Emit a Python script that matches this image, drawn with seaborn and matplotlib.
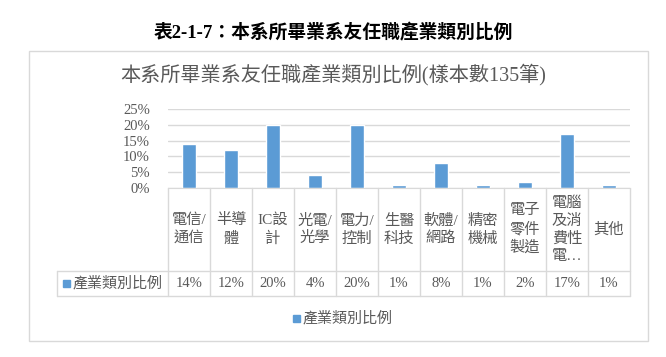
import matplotlib.pyplot as plt
import seaborn as sns
import pandas as pd
from matplotlib.patches import Rectangle
from matplotlib.transforms import blended_transform_factory

# data
categories = ['電信/通信', '半導體', 'IC設計', '光電/光學', '電力/控制', '生醫科技',
              '軟體/網路', '精密機械', '電子零件製造', '電腦及消費性電子', '其他']
cat_labels = ['電信/\n通信', '半導\n體', 'IC設\n計', '光電/\n光學', '電力/\n控制', '生醫\n科技',
              '軟體/\n網路', '精密\n機械', '電子\n零件\n製造', '電腦\n及消\n費性\n電…', '其他']
shares = [14, 12, 20, 4, 20, 1, 8, 1, 2, 17, 1]
series_name = '產業類別比例'
y_ticks = [0, 5, 10, 15, 20, 25]

outer_title = '表2-1-7：本系所畢業系友任職產業類別比例'
chart_title = '本系所畢業系友任職產業類別比例(樣本數135筆)'

BAR = '#5B9BD5'
GRID = '#D9D9D9'
TXT = '#595959'

sns.set_style('white')
plt.rcParams['font.family'] = ['Liberation Serif', 'Noto Sans CJK TC', 'DejaVu Sans']

W, H = 666, 357
fig = plt.figure(figsize=(W / 100, H / 100), dpi=100)


def fx(px):
    return px / W


def fy(py):
    return 1 - py / H


# outer title and chart frame
fig.text(0.5, fy(33), outer_title, ha='center', va='center', fontsize=13.5,
         fontweight='bold', color='black')
fig.add_artist(Rectangle((fx(29), fy(341)), fx(648) - fx(29), fy(51) - fy(341),
                         transform=fig.transFigure, fill=False, edgecolor=GRID, lw=1))
fig.text(0.5, fy(75), chart_title, ha='center', va='center', fontsize=14.5, color=TXT)

# plot area
ax = fig.add_axes([fx(168), fy(188), fx(630) - fx(168), fy(109) - fy(188)])
df = pd.DataFrame({'category': categories, 'share': shares})
sns.barplot(data=df, x='category', y='share', color=BAR, saturation=1, width=0.31, ax=ax)

ax.set_xlim(-0.5, len(categories) - 0.5)
ax.set_ylim(0, 25)
ax.set_yticks(y_ticks)
ax.set_yticklabels([f'{t}%' for t in y_ticks], fontsize=10.5, color=TXT)
ax.set_xticks([])
ax.set_xlabel('')
ax.set_ylabel('')
ax.tick_params(length=0, pad=13)
ax.grid(axis='y', color=GRID, lw=1)
ax.set_axisbelow(True)
for s in ['left', 'top', 'right']:
    ax.spines[s].set_visible(False)
ax.spines['bottom'].set_color(GRID)

# data table under the axis
tr = blended_transform_factory(ax.transData, fig.transFigure)
n = len(categories)
y_top, y_mid, y_bot = fy(188), fy(271), fy(296)
for i in range(n + 1):
    ax.plot([i - 0.5, i - 0.5], [y_top, y_bot], color=GRID, lw=1, transform=tr, clip_on=False)
left_px = fx(57)
for yy in [y_mid, y_bot]:
    fig.add_artist(plt.Line2D([left_px, fx(630)], [yy, yy], color=GRID, lw=1,
                              transform=fig.transFigure))
fig.add_artist(plt.Line2D([left_px, left_px], [y_mid, y_bot], color=GRID, lw=1,
                          transform=fig.transFigure))

for i, (lab, v) in enumerate(zip(cat_labels, shares)):
    ax.text(i, (y_top + y_mid) / 2, lab, transform=tr, ha='center', va='center',
            fontsize=11, linespacing=1.35, color=TXT)
    ax.text(i, (y_mid + y_bot) / 2, f'{v}%', transform=tr, ha='center', va='center',
            fontsize=10.5, color=TXT)

# legend key inside table
fig.add_artist(Rectangle((fx(63), fy(287)), fx(7), fy(280) - fy(287),
                         transform=fig.transFigure, color=BAR))
fig.text(fx(73), (y_mid + y_bot) / 2, series_name, ha='left', va='center',
         fontsize=10.8, color=TXT)

# bottom legend
fig.add_artist(Rectangle((fx(293), fy(322)), fx(7), fy(315) - fy(322),
                         transform=fig.transFigure, color=BAR))
fig.text(fx(303), fy(318.5), series_name, ha='left', va='center', fontsize=10.8, color=TXT)

fig.savefig('out.png', dpi=100)
